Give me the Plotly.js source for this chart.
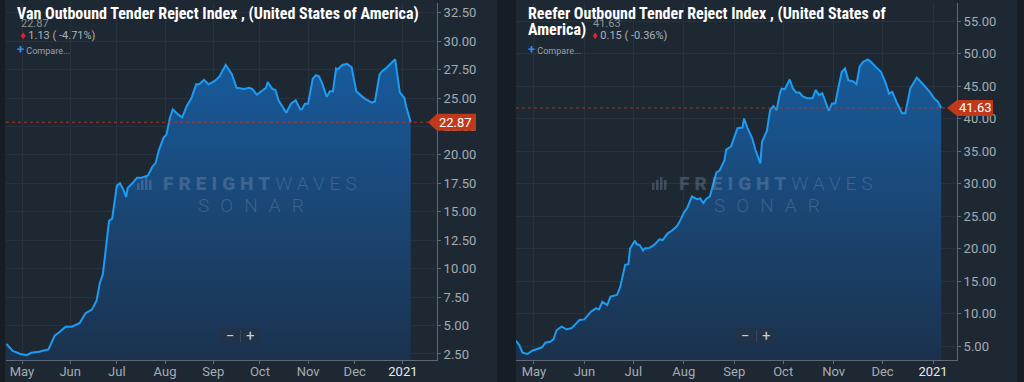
<!DOCTYPE html>
<html><head><meta charset="utf-8">
<script src="https://cdn.plot.ly/plotly-3.0.1.min.js"></script>
<style>html,body{margin:0;padding:0;background:#161d25;overflow:hidden}#chart{width:1024px;height:382px}</style>
</head><body><div id="chart"></div>
<script>
// ---------- DATA ----------
const vanTitle = 'Van Outbound Tender Reject Index , (United States of America)';
const reeferTitleLine1 = 'Reefer Outbound Tender Reject Index , (United States of';
const reeferTitleLine2 = 'America)';
const vanChange = '1.13 ( -4.71%)';
const reeferChange = '0.15 ( -0.36%)';

const vanDates = ['2020-04-21','2020-04-25','2020-04-30','2020-05-04','2020-05-07','2020-05-12','2020-05-18','2020-05-22','2020-05-25','2020-05-29',
'2020-06-02','2020-06-05','2020-06-07','2020-06-11','2020-06-15','2020-06-18','2020-06-20','2020-06-22','2020-06-24','2020-06-26','2020-06-28',
'2020-07-01','2020-07-03','2020-07-05','2020-07-07','2020-07-08','2020-07-11','2020-07-14','2020-07-17','2020-07-21','2020-07-24','2020-07-26','2020-07-28','2020-07-31',
'2020-08-02','2020-08-04','2020-08-06','2020-08-09','2020-08-12','2020-08-13','2020-08-15','2020-08-18','2020-08-21','2020-08-23','2020-08-26','2020-08-29',
'2020-09-02','2020-09-05','2020-09-09','2020-09-11','2020-09-13','2020-09-16','2020-09-19','2020-09-21','2020-09-24','2020-09-26','2020-09-29',
'2020-10-03','2020-10-05','2020-10-06','2020-10-09','2020-10-11','2020-10-13','2020-10-18','2020-10-21','2020-10-24','2020-10-27','2020-10-28','2020-10-30',
'2020-11-01','2020-11-04','2020-11-06','2020-11-08','2020-11-10','2020-11-13','2020-11-15','2020-11-17','2020-11-19','2020-11-20','2020-11-23','2020-11-26','2020-11-29',
'2020-12-02','2020-12-06','2020-12-08','2020-12-12','2020-12-14','2020-12-17','2020-12-19','2020-12-21','2020-12-24','2020-12-27','2020-12-30',
'2021-01-02','2021-01-03','2021-01-06'];
const vanValues = [3.38,2.76,2.5,2.4,2.6,2.7,2.9,4.1,4.4,4.9,
4.9,5.1,5.2,6.1,6.4,7.2,8.7,9.5,11.8,14.2,14.4,
17.3,17.5,17.0,16.3,17.1,17.5,18.0,18.0,18.2,19.0,19.3,20.4,21.5,
21.8,23.2,24.0,23.6,23.3,23.7,24.3,25.0,26.2,26.2,26.6,26.2,
26.5,26.9,27.9,27.5,27.1,25.9,25.8,25.8,25.9,25.8,25.3,
25.7,25.9,26.4,25.8,25.7,24.8,23.7,24.5,24.8,24.0,24.0,24.5,
24.5,26.7,27.0,26.9,26.3,25.1,25.6,25.6,27.6,27.5,27.9,28.0,27.7,
25.6,25.1,24.9,24.6,24.7,27.1,27.4,27.6,28.0,28.4,25.5,
25.0,24.3,22.87];

const reeferDates = ['2020-04-20','2020-04-22','2020-04-24','2020-04-27','2020-04-30','2020-05-03','2020-05-06','2020-05-08','2020-05-11','2020-05-13','2020-05-15','2020-05-18','2020-05-21','2020-05-24','2020-05-26','2020-05-29',
'2020-06-01','2020-06-03','2020-06-05','2020-06-08','2020-06-10','2020-06-12','2020-06-15','2020-06-17','2020-06-21','2020-06-23','2020-06-26','2020-06-28','2020-06-29',
'2020-07-02','2020-07-03','2020-07-05','2020-07-07','2020-07-08','2020-07-11','2020-07-14','2020-07-17','2020-07-19','2020-07-22','2020-07-25','2020-07-28','2020-07-30',
'2020-08-01','2020-08-03','2020-08-06','2020-08-09','2020-08-11','2020-08-13','2020-08-15','2020-08-17','2020-08-19','2020-08-21','2020-08-23','2020-08-26','2020-08-27','2020-08-30',
'2020-09-03','2020-09-06','2020-09-07','2020-09-09','2020-09-12','2020-09-14','2020-09-17','2020-09-18','2020-09-21','2020-09-23','2020-09-25','2020-09-27','2020-09-29','2020-09-30',
'2020-10-02','2020-10-03','2020-10-05','2020-10-07','2020-10-09','2020-10-11','2020-10-13','2020-10-16','2020-10-19','2020-10-21','2020-10-23','2020-10-25','2020-10-27','2020-10-29','2020-10-31',
'2020-11-02','2020-11-04','2020-11-06','2020-11-08','2020-11-10','2020-11-13','2020-11-15','2020-11-17','2020-11-19','2020-11-22','2020-11-24','2020-11-27','2020-11-30',
'2020-12-03','2020-12-05','2020-12-07','2020-12-10','2020-12-13','2020-12-15','2020-12-18','2020-12-20','2020-12-22','2020-12-25','2020-12-27','2020-12-30',
'2021-01-02','2021-01-04','2021-01-06'];
const reeferValues = [5.8,5.15,3.97,3.77,4.28,4.49,4.8,5.5,5.66,6.03,7.46,7.97,7.57,7.72,8.23,9.0,
9.1,9.77,10.28,10.8,10.65,11.8,11.3,12.6,12.85,14.1,17.5,17.6,20.0,
21.2,20.7,20.5,19.7,20.0,20.1,20.6,21.4,21.3,22.3,22.8,23.5,24.4,
25.5,26.2,28.0,27.6,27.7,27.0,27.7,28.0,30.0,31.7,32.0,33.6,35.2,35.7,
38.5,38.6,40.0,38.6,36.95,35.15,33.1,36.4,38.1,41.3,41.9,41.3,43.9,44.6,
44.5,45.0,46.0,44.6,44.0,44.0,43.4,43.1,43.1,44.4,43.6,43.9,42.6,41.2,42.3,
42.3,44.9,47.2,47.7,45.9,45.7,45.3,48.0,48.7,49.1,48.7,47.9,47.2,
45.4,43.8,44.1,42.3,40.8,40.8,44.6,45.4,46.3,45.5,44.9,44.1,
43.0,42.6,41.63];

const monthTicks = ['2020-05-01','2020-06-01','2020-07-01','2020-08-01','2020-09-01','2020-10-01','2020-11-01','2020-12-01','2021-01-01'];
const monthLabels = ['May','Jun','Jul','Aug','Sep','Oct','Nov','Dec','<span style="color:#e6e9ec">2021</span>'];

// ---------- LAYOUT HELPERS ----------
const W = 1024, H = 382;
const px = x => x / W;
const py = y => 1 - y / H;
const TF = "'Roboto Condensed','Liberation Sans Narrow','DejaVu Sans Condensed',Roboto,sans-serif";
const BASE = "Roboto, 'Open Sans', sans-serif";
const GRID = '#27323e', AXIS = '#5f6975', TICK = '#a3abb3';

const vanLast = vanValues[vanValues.length - 1];
const refLast = reeferValues[reeferValues.length - 1];

function fill() {
  return {type: 'vertical', colorscale: [[0, '#1b2f48'], [0.55, '#1a4776'], [1, '#175b9c']]};
}
const traces = [
  {x: vanDates, y: vanValues, type: 'scatter', mode: 'lines', xaxis: 'x', yaxis: 'y',
   line: {color: '#1d9cf3', width: 2}, fill: 'tozeroy', fillgradient: fill(), hoverinfo: 'skip'},
  {x: reeferDates, y: reeferValues, type: 'scatter', mode: 'lines', xaxis: 'x2', yaxis: 'y2',
   line: {color: '#1d9cf3', width: 2}, fill: 'tozeroy', fillgradient: fill(), hoverinfo: 'skip'}
];

function xax(domain, range, anchor) {
  return {domain, range, type: 'date', anchor, tickmode: 'array', tickvals: monthTicks, ticktext: monthLabels,
    showgrid: true, gridcolor: GRID, gridwidth: 1, showline: true, linecolor: AXIS, linewidth: 1,
    ticks: 'outside', ticklen: 3, tickcolor: AXIS, ticklabelstandoff: -4, tickfont: {family: BASE, size: 13, color: TICK},
    zeroline: false, fixedrange: true};
}
function yax(range, dtick, anchor) {
  return {domain: [22 / H, 379 / H], range, anchor, side: 'right', tick0: dtick, dtick, tickformat: '.2f',
    showgrid: true, gridcolor: GRID, gridwidth: 1, showline: true, linecolor: AXIS, linewidth: 1,
    ticks: 'outside', ticklen: 3, tickcolor: AXIS, tickfont: {family: BASE, size: 13, color: TICK},
    zeroline: false, fixedrange: true};
}

const WM = 'rgba(150,172,200,0.28)';
const shapes = [
  {type: 'rect', xref: 'paper', yref: 'paper', x0: px(5), x1: px(497), y0: 0, y1: 1, fillcolor: '#1e2833', line: {width: 0}, layer: 'below'},
  {type: 'rect', xref: 'paper', yref: 'paper', x0: px(516), x1: px(1017), y0: 0, y1: 1, fillcolor: '#1e2833', line: {width: 0}, layer: 'below'},
  // last value dashed lines
  {type: 'line', xref: 'x domain', yref: 'y', x0: 0, x1: 1, y0: vanLast, y1: vanLast, line: {color: 'rgba(190,60,35,0.8)', width: 1, dash: '3px,3px'}, layer: 'above'},
  {type: 'line', xref: 'x2 domain', yref: 'y2', x0: 0, x1: 1, y0: refLast, y1: refLast, line: {color: 'rgba(190,60,35,0.8)', width: 1, dash: '3px,3px'}, layer: 'above'},
  // value tags
  {type: 'path', xref: 'paper', yref: 'y', ysizemode: 'pixel', yanchor: vanLast,
   path: `M ${px(428)},0 L ${px(437)},8.5 L ${px(476)},8.5 L ${px(476)},-8.5 L ${px(437)},-8.5 Z`,
   fillcolor: '#c0391b', line: {width: 0}, layer: 'above'},
  {type: 'path', xref: 'paper', yref: 'y2', ysizemode: 'pixel', yanchor: refLast,
   path: `M ${px(947)},0 L ${px(957)},8 L ${px(993)},8 L ${px(993)},-8 L ${px(957)},-8 Z`,
   fillcolor: '#c0391b', line: {width: 0}, layer: 'above'},
  // zoom button boxes
  {type: 'rect', xref: 'paper', yref: 'paper', x0: px(220), x1: px(260), y0: py(344), y1: py(328), fillcolor: 'rgba(38,50,64,0.55)', line: {width: 0}, layer: 'above'},
  {type: 'line', xref: 'paper', yref: 'paper', x0: px(240.5), x1: px(240.5), y0: py(342), y1: py(330), line: {color: '#3a4756', width: 1}, layer: 'above'},
  {type: 'rect', xref: 'paper', yref: 'paper', x0: px(735), x1: px(776), y0: py(344), y1: py(328), fillcolor: 'rgba(38,50,64,0.55)', line: {width: 0}, layer: 'above'},
  {type: 'line', xref: 'paper', yref: 'paper', x0: px(756.5), x1: px(756.5), y0: py(342), y1: py(330), line: {color: '#3a4756', width: 1}, layer: 'above'}
];
// watermark logo bars
function logoBars(x0) {
  const hs = [7, 10, 13, 10];
  hs.forEach((h, i) => {
    shapes.push({type: 'rect', xref: 'paper', yref: 'paper', x0: px(x0 + i * 4), x1: px(x0 + i * 4 + 2.5),
      y0: py(190), y1: py(190 - h), fillcolor: WM, line: {width: 0}, layer: 'above'});
  });
}
logoBars(137); logoBars(652);

function ann(text, x, y, opts) {
  return Object.assign({text, x, y, xref: 'paper', yref: 'paper', showarrow: false, xanchor: 'left', yanchor: 'middle',
    font: {family: BASE, size: 11, color: '#9aa2aa'}, borderpad: 0}, opts || {});
}
const annotations = [
  ann(vanTitle, px(16), py(14), {font: {family: TF, size: 16, color: '#ffffff', weight: 700}}),
  ann(vanLast.toFixed(2), px(20), py(24), {font: {family: BASE, size: 11, color: '#8c949c'}}),
  ann('<span style="color:#e3232b">♦</span> ' + vanChange, px(19), py(35), {font: {family: BASE, size: 11, color: '#aab2ba'}}),
  ann('<span style="color:#2f86e6;font-size:13px"><b>+</b></span> Compare...', px(16), py(50), {font: {family: BASE, size: 9, color: '#9aa2aa'}}),

  ann(reeferTitleLine1, px(527), py(14), {font: {family: TF, size: 16, color: '#ffffff', weight: 700}}),
  ann(reeferTitleLine2, px(527), py(29), {font: {family: TF, size: 16, color: '#ffffff', weight: 700}}),
  ann(refLast.toFixed(2), px(592), py(24), {font: {family: BASE, size: 11, color: '#8c949c'}}),
  ann('<span style="color:#e3232b">♦</span> ' + reeferChange, px(591), py(35), {font: {family: BASE, size: 11, color: '#aab2ba'}}),
  ann('<span style="color:#2f86e6;font-size:13px"><b>+</b></span> Compare...', px(527), py(50), {font: {family: BASE, size: 9, color: '#9aa2aa'}}),

  // value tag texts
  {text: vanLast.toFixed(2), x: px(455), y: vanLast, xref: 'paper', yref: 'y', showarrow: false, xanchor: 'center', yanchor: 'middle', font: {family: BASE, size: 13, color: '#ffffff'}},
  {text: refLast.toFixed(2), x: px(975), y: refLast, xref: 'paper', yref: 'y2', showarrow: false, xanchor: 'center', yanchor: 'middle', font: {family: BASE, size: 13, color: '#ffffff'}},

  // zoom buttons
  ann('−', px(230), py(336), {xanchor: 'center', font: {family: BASE, size: 15, color: '#c9cfd5'}}),
  ann('+', px(250), py(336), {xanchor: 'center', font: {family: BASE, size: 15, color: '#c9cfd5'}}),
  ann('−', px(745), py(336), {xanchor: 'center', font: {family: BASE, size: 15, color: '#c9cfd5'}}),
  ann('+', px(766), py(336), {xanchor: 'center', font: {family: BASE, size: 15, color: '#c9cfd5'}}),

  // watermarks
  ann('<span style="font-weight:900;letter-spacing:5px">FREIGHT</span><span style="font-weight:300;letter-spacing:5px">WAVES</span>', px(262), py(183), {xanchor: 'center', font: {family: BASE, size: 19, color: WM}}),
  ann('<span style="font-weight:300;letter-spacing:11px">SONAR</span>', px(256), py(206), {xanchor: 'center', font: {family: BASE, size: 19, color: WM}}),
  ann('<span style="font-weight:900;letter-spacing:5px">FREIGHT</span><span style="font-weight:300;letter-spacing:5px">WAVES</span>', px(778), py(183), {xanchor: 'center', font: {family: BASE, size: 19, color: WM}}),
  ann('<span style="font-weight:300;letter-spacing:11px">SONAR</span>', px(772), py(206), {xanchor: 'center', font: {family: BASE, size: 19, color: WM}})
];

const layout = {
  width: W, height: H, margin: {l: 0, r: 0, t: 0, b: 0, pad: 0},
  paper_bgcolor: '#161d25', plot_bgcolor: 'rgba(0,0,0,0)', showlegend: false,
  font: {family: BASE, color: TICK},
  xaxis: xax([px(6), px(437)], ['2020-04-20 17:00', '2021-01-22 22:00'], 'y'),
  yaxis: yax([1.97, 33.35], 2.5, 'x'),
  xaxis2: xax([px(516), px(957)], ['2020-04-20 00:00', '2021-01-15 17:00'], 'y2'),
  yaxis2: yax([2.85, 57.77], 5, 'x2'),
  shapes, annotations
};
Plotly.newPlot('chart', traces, layout, {displayModeBar: false, staticPlot: true});
</script></body></html>
